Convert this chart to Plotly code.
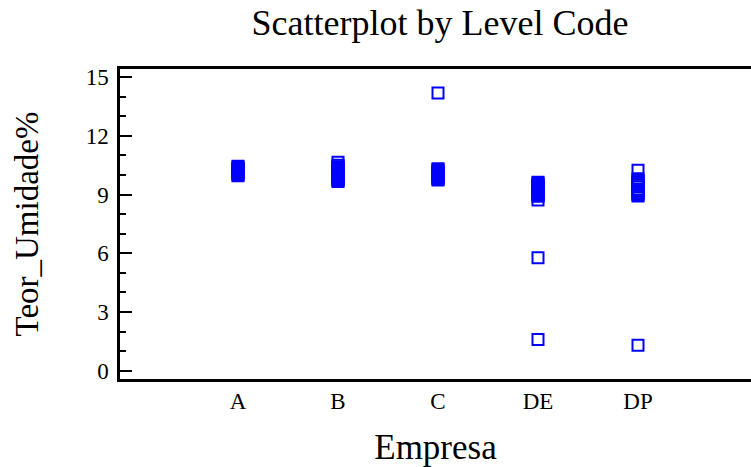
import plotly.graph_objects as go

# teor de umidade por empresa
empresas = ["A", "B", "C", "DE", "DP"]
umid_A = [10.44, 10.39, 10.34, 10.29, 10.24, 10.18, 10.12, 10.06, 10.01, 9.96]
umid_B = [10.65, 10.50, 10.42, 10.36, 10.30, 10.24, 10.18, 10.12, 10.06, 10.00,
          9.94, 9.88, 9.82, 9.76, 9.71, 9.66]
umid_C = [14.18, 10.32, 10.26, 10.20, 10.14, 10.08, 10.02, 9.96, 9.90,
          9.84, 9.79, 9.74]
umid_DE = [9.63, 9.57, 9.51, 9.45, 9.39, 9.33, 9.27, 9.21, 9.15, 9.09,
           9.03, 8.97, 8.91, 8.72, 5.77, 1.60]
umid_DP = [10.24, 9.80, 9.72, 9.62, 9.55, 9.48, 9.40, 9.28, 9.20, 9.12,
           9.05, 8.99, 8.93, 1.30]
yticks = [0, 3, 6, 9, 12, 15]

grupos = [umid_A, umid_B, umid_C, umid_DE, umid_DP]
xs, ys = [], []
for emp, vals in zip(empresas, grupos):
    xs += [emp] * len(vals)
    ys += vals

serif = "Times New Roman, Liberation Serif, serif"
yrange = [-0.42, 15.41]

fig = go.Figure(go.Scatter(
    x=xs, y=ys, mode="markers",
    marker=dict(symbol="square-open", size=11, color="#0000ff",
                line=dict(width=2, color="#0000ff")),
    showlegend=False,
))

fig.update_layout(
    width=751, height=467,
    margin=dict(l=120, r=0, t=69, b=88),
    paper_bgcolor="white", plot_bgcolor="white",
    font=dict(family=serif, color="black"),
    title=dict(text="Scatterplot by Level Code", font=dict(size=36, family=serif),
               x=440 / 751, xanchor="center", xref="container",
               y=1 - 22 / 467, yanchor="middle", yref="container"),
    xaxis=dict(
        type="category", categoryorder="array", categoryarray=empresas,
        range=[-1.18, 5.13],
        showline=True, linecolor="black", linewidth=2.5, mirror=True,
        ticks="", showgrid=False, zeroline=False,
        tickfont=dict(size=23, family=serif), ticklabelstandoff=0,
        title=dict(text="Empresa", font=dict(size=35, family=serif), standoff=22),
    ),
    yaxis=dict(
        range=yrange, tickvals=yticks,
        showline=True, linecolor="black", linewidth=2.5, mirror=False,
        ticks="inside", ticklen=12, tickwidth=2, tickcolor="black",
        minor=dict(dtick=1, tick0=0, ticks="inside", ticklen=6,
                   tickwidth=2, tickcolor="black"),
        showgrid=False, zeroline=False,
        tickfont=dict(size=23, family=serif), ticklabelstandoff=4,
        title=dict(text="Teor_Umidade%", font=dict(size=33, family=serif), standoff=38),
    ),
    # eixo direito so com os ticks (a linha fica fora da janela no original)
    yaxis2=dict(
        overlaying="y", side="right", anchor="x", range=yrange, tickvals=yticks,
        showticklabels=False, showline=False, showgrid=False, zeroline=False,
        ticks="inside", ticklen=8, tickwidth=2, tickcolor="black",
        minor=dict(dtick=1, tick0=0, ticks="inside", ticklen=3,
                   tickwidth=2, tickcolor="black"),
    ),
)

fig.write_html("out.html", config={"displayModeBar": False},
               post_script="document.body.style.margin='0';")
